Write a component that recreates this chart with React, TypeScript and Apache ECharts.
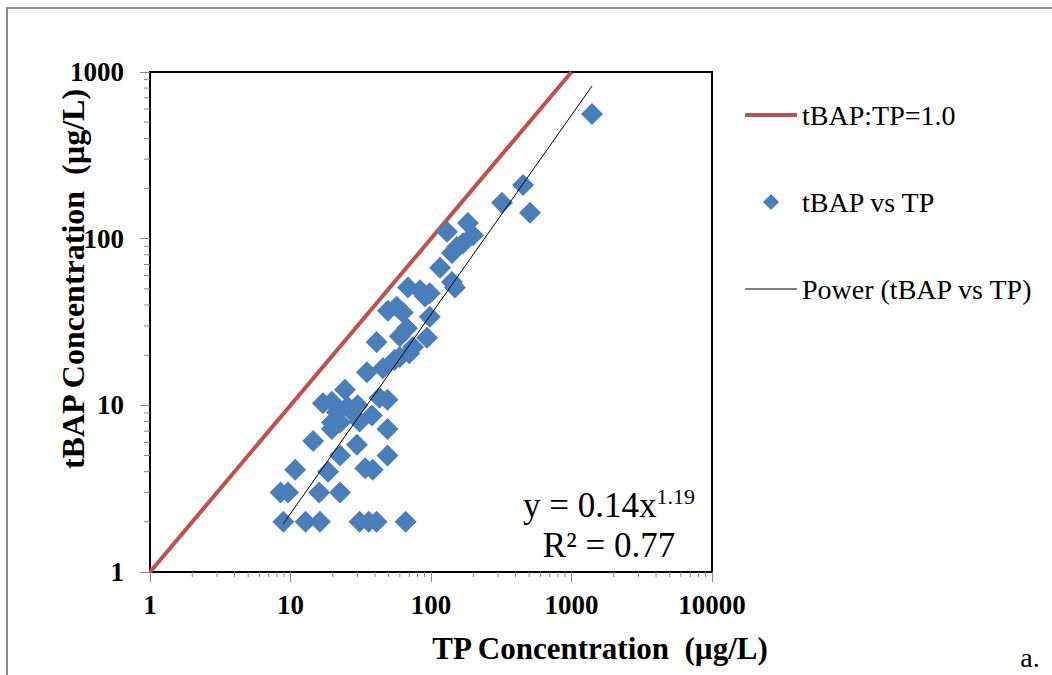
import React, { useEffect, useRef } from "react";
import * as echarts from "echarts";

// ---- data ----
const tpValues = [
  8.9, 12.8, 16.2, 31, 36, 41, 66,
  8.5, 9.6, 16, 22.5,
  10.8, 18.5, 34, 38.5,
  22.5, 49, 29.7, 14.5, 49, 19.7,
  19.7, 22.5, 31, 38, 17, 19.7, 21.4, 26.5, 30, 43, 49, 25.5,
  24.4, 35, 45.5, 55, 60, 70,
  41, 74.5, 60, 67.5, 93.7, 49.4, 57, 63, 98,
  68.6, 83.5, 90.6, 98, 116, 141, 148, 141, 153, 169, 130, 183, 199,
  320, 452, 507, 1400,
];
const tbapValues = [
  2, 2, 2, 2, 2, 2, 2,
  3, 3, 3, 3,
  4.1, 4, 4.2, 4.1,
  5, 5, 5.8, 6.1, 7.2, 7.2,
  7.9, 7.9, 8, 8.7, 10.3, 10.5, 9.1, 9.4, 10, 11.1, 10.8, 9.8,
  12.4, 15.8, 16.7, 18.7, 19.5, 20.5,
  24, 22.4, 26, 29, 25.4, 37, 39, 36, 34,
  51, 49, 45, 47, 67, 55, 51, 82, 89, 94, 110, 124, 105,
  164, 210, 143, 560,
];
const ratioLineX = [1, 1000];
const ratioLineY = [1, 1000];
const trendX = [8.9, 1400];
const trendY = [1.95, 824];
const xMajorTicks = ["1", "10", "100", "1000", "10000"];
const yMajorTicks = ["1", "10", "100", "1000"];
const minorMultipliers = [2, 3, 4, 5, 6, 7, 8, 9];
const xDecades = [1, 10, 100, 1000];
const yDecades = [1, 10, 100];

const SERIF = "'Liberation Serif', 'Times New Roman', serif";

// legend icons: padded paths so the drawn mark keeps its own size inside a 52x16 box
const ICON_RED_LINE = "path://M0,0L0.01,0ZM0,6L52,6L52,10L0,10ZM0,16L0.01,16Z";
const ICON_DIAMOND = "path://M0,8L0.01,8ZM52,8L51.99,8ZM26,0L34,8L26,16L18,8Z";
const ICON_THIN_LINE = "path://M0,0L0.01,0ZM0,7.5L52,7.5L52,8.5L0,8.5ZM0,16L0.01,16Z";

export default function App() {
  const ref = useRef<HTMLDivElement>(null);

  useEffect(() => {
    if (!ref.current) return;
    const chart = echarts.init(ref.current, undefined, { renderer: "svg" });

    const scatterData = tpValues.map((x, i) => [x, tbapValues[i]]);
    const ratioData = ratioLineX.map((x, i) => [x, ratioLineY[i]]);
    const trendData = trendX.map((x, i) => [x, trendY[i]]);

    const xMinor: number[][] = [];
    xDecades.forEach((d) => minorMultipliers.forEach((m) => xMinor.push([d * m, 1])));
    const yMinor: number[][] = [];
    yDecades.forEach((d) => minorMultipliers.forEach((m) => yMinor.push([1, d * m])));

    const axisLabelStyle = {
      fontFamily: SERIF,
      fontWeight: "bold" as const,
      fontSize: 27,
      color: "#000",
    };

    chart.setOption({
      animation: false,
      backgroundColor: "#fff",
      grid: {
        left: 150,
        right: 340,
        top: 72,
        bottom: 103,
        show: true,
        borderColor: "#000",
        borderWidth: 2,
        backgroundColor: "transparent",
      },
      xAxis: {
        type: "log",
        logBase: 10,
        min: 1,
        max: 10000,
        axisLine: { show: true, lineStyle: { color: "#000", width: 2 } },
        axisTick: { show: true, length: 10, lineStyle: { color: "#888", width: 1 } },
        splitLine: { show: false },
        axisLabel: {
          ...axisLabelStyle,
          margin: 19,
          formatter: (v: number) => {
            const s = String(Math.round(v));
            return xMajorTicks.includes(s) ? s : "";
          },
        },
      },
      yAxis: {
        type: "log",
        logBase: 10,
        min: 1,
        max: 1000,
        axisLine: { show: true, lineStyle: { color: "#000", width: 2 } },
        axisTick: { show: true, length: 10, lineStyle: { color: "#888", width: 1 } },
        splitLine: { show: false },
        axisLabel: {
          ...axisLabelStyle,
          margin: 26,
          formatter: (v: number) => {
            const s = String(Math.round(v));
            return yMajorTicks.includes(s) ? s : "";
          },
        },
      },
      legend: {
        orient: "vertical",
        left: 740,
        top: 96,
        itemGap: 59,
        itemWidth: 52,
        itemHeight: 16,
        textStyle: { fontFamily: SERIF, fontSize: 28, color: "#000" },
        data: [
          { name: "tBAP:TP=1.0", icon: ICON_RED_LINE },
          { name: "tBAP vs TP", icon: ICON_DIAMOND },
          { name: "Power (tBAP vs TP)", icon: ICON_THIN_LINE },
        ],
      },
      series: [
        {
          name: "tBAP:TP=1.0",
          type: "line",
          data: ratioData,
          symbol: "none",
          lineStyle: { color: "#C0504D", width: 4 },
          itemStyle: { color: "#C0504D" },
          z: 2,
        },
        {
          name: "tBAP vs TP",
          type: "scatter",
          data: scatterData,
          symbol: "diamond",
          symbolSize: [22, 22],
          itemStyle: { color: "#4A7EBB", opacity: 1 },
          z: 3,
        },
        {
          name: "Power (tBAP vs TP)",
          type: "line",
          data: trendData,
          symbol: "none",
          lineStyle: { color: "#000", width: 1 },
          itemStyle: { color: "#000" },
          z: 4,
        },
        {
          name: "xMinorTicks",
          type: "custom",
          silent: true,
          clip: false,
          data: xMinor,
          renderItem: (params: any, api: any) => {
            const p = api.coord([api.value(0), api.value(1)]);
            return {
              type: "line",
              shape: { x1: p[0], y1: p[1], x2: p[0], y2: p[1] + 5 },
              style: { stroke: "#888", lineWidth: 1 },
            };
          },
          z: 1,
        },
        {
          name: "yMinorTicks",
          type: "custom",
          silent: true,
          clip: false,
          data: yMinor,
          renderItem: (params: any, api: any) => {
            const p = api.coord([api.value(0), api.value(1)]);
            return {
              type: "line",
              shape: { x1: p[0] - 6, y1: p[1], x2: p[0], y2: p[1] },
              style: { stroke: "#888", lineWidth: 1 },
            };
          },
          z: 1,
        },
      ],
      graphic: [
        {
          type: "rect",
          shape: { x: 7, y: 8, width: 1200, height: 800 },
          style: { fill: "none", stroke: "#8a8a8a", lineWidth: 2 },
          silent: true,
          z: 0,
        },
        {
          type: "text",
          x: 600,
          y: 648,
          style: {
            text: "TP Concentration  (µg/L)",
            font: `bold 31px ${SERIF}`,
            fill: "#000",
            align: "center",
            verticalAlign: "middle",
            textAlign: "center",
            textVerticalAlign: "middle",
          },
        },
        {
          type: "text",
          x: 73,
          y: 279,
          rotation: Math.PI / 2,
          style: {
            text: "tBAP Concentration  (µg/L)",
            font: `bold 32px ${SERIF}`,
            fill: "#000",
            align: "center",
            verticalAlign: "middle",
            textAlign: "center",
            textVerticalAlign: "middle",
          },
        },
        {
          type: "text",
          x: 609,
          y: 525,
          style: {
            text: "{a|y = 0.14x}{b|1.19}\n{a|R² = 0.77}",
            align: "center",
            verticalAlign: "middle",
            textAlign: "center",
            textVerticalAlign: "middle",
            fill: "#000",
            rich: {
              a: { fontFamily: SERIF, fontSize: 35, lineHeight: 40, fill: "#000", color: "#000" },
              b: {
                fontFamily: SERIF,
                fontSize: 22,
                lineHeight: 40,
                verticalAlign: "top",
                padding: [0, 0, 14, 0],
                fill: "#000",
                color: "#000",
              },
            },
          },
        },
        {
          type: "text",
          x: 1030,
          y: 657,
          style: {
            text: "a.",
            font: `28px ${SERIF}`,
            fill: "#000",
            align: "center",
            verticalAlign: "middle",
            textAlign: "center",
            textVerticalAlign: "middle",
          },
        },
      ],
    });

    return () => chart.dispose();
  }, []);

  return (
    <div
      ref={ref}
      style={{ position: "fixed", left: 0, top: 0, width: 1052, height: 675, background: "#fff" }}
    />
  );
}
